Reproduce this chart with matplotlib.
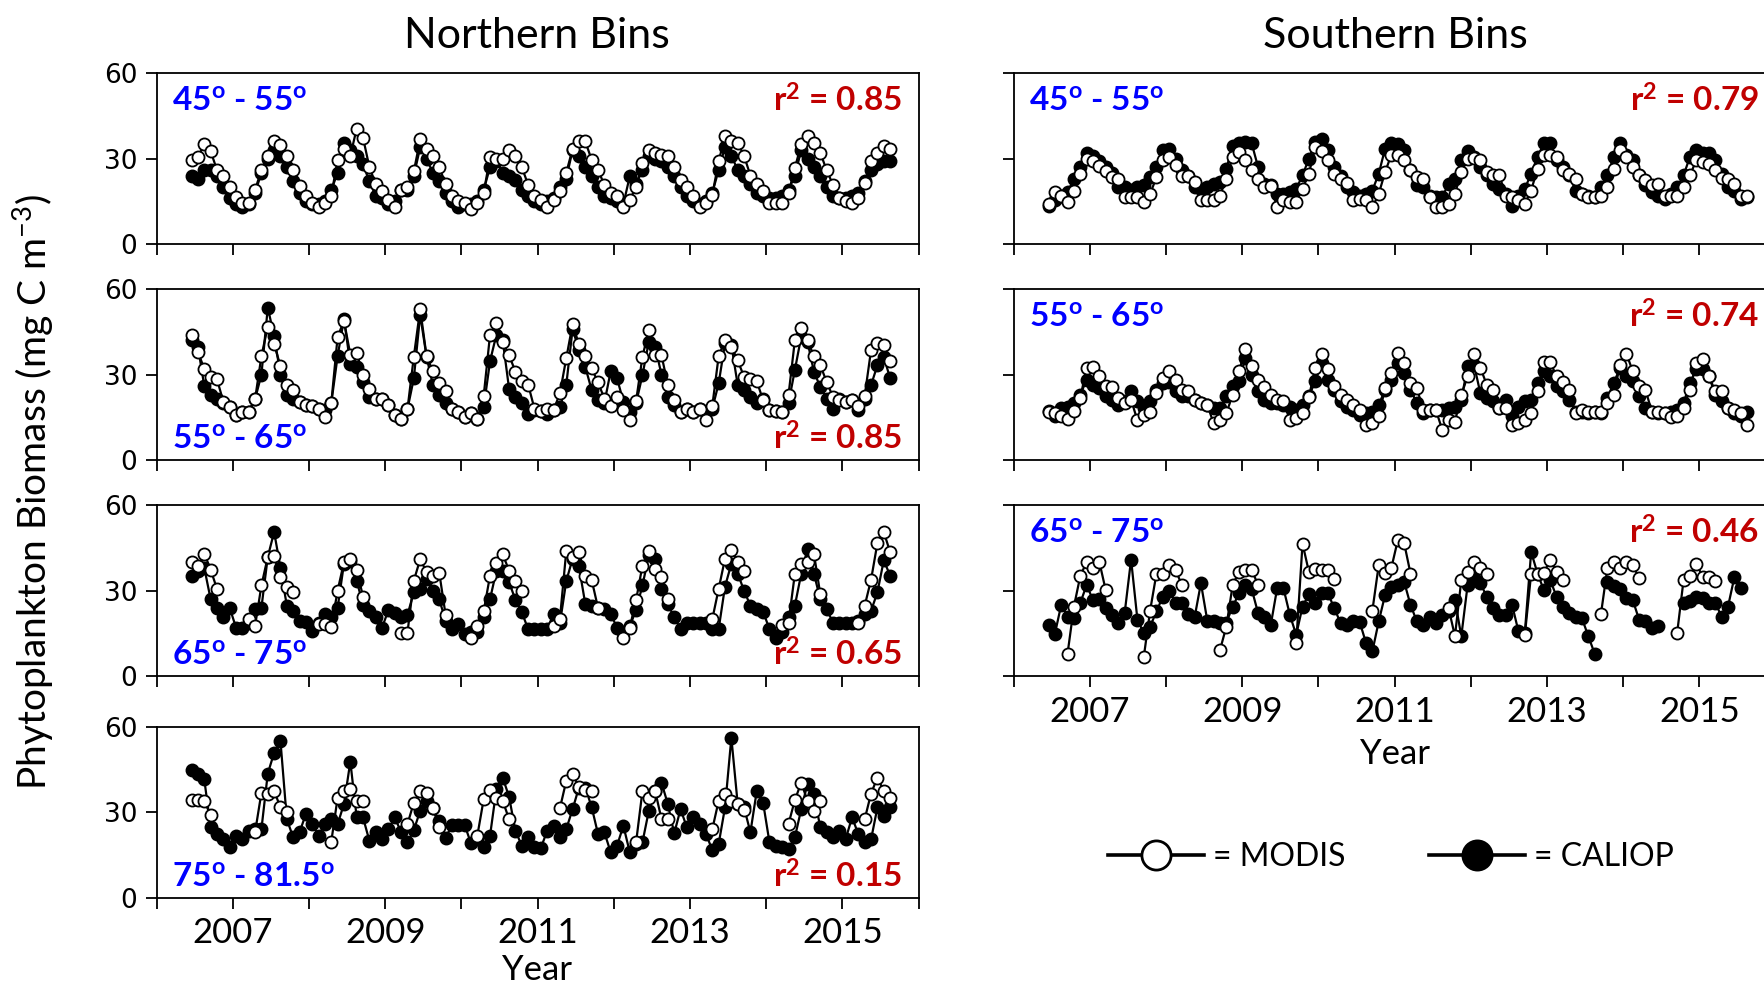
import numpy as np
import pandas as pd
import matplotlib
matplotlib.use('Agg')
import matplotlib.pyplot as plt
from matplotlib.lines import Line2D

plt.rcParams['font.family'] = ['Lato', 'DejaVu Sans']
plt.rcParams['mathtext.fontset'] = 'custom'
plt.rcParams['mathtext.rm'] = 'Lato'
plt.rcParams['mathtext.it'] = 'Lato:italic'
plt.rcParams['mathtext.bf'] = 'Lato:bold'

nan = np.nan

# monthly samples, Jun 2006 .. Aug 2015
months = pd.date_range('2006-06-01', '2015-08-01', freq='MS')
t = months.year + (months.month - 0.5) / 12

# ---------------- Northern bins ----------------
n45_modis = [
    29.6, 30.5, 35.0, 32.6, 26.0, 24.0, 20.0,
    16.4, 14.4, 14.4, 19.0, 26.0, 31.0, 36.0, 34.6, 31.0, 26.0, 20.5, 16.7,
    14.4, 13.0, 14.4, 17.0, 29.6, 33.4, 31.0, 40.5, 37.3, 27.0, 21.0, 18.5,
    15.5, 13.0, 19.0, 20.0, 25.5, 36.7, 33.4, 30.8, 27.0, 21.0, 16.7, 15.0,
    14.4, 12.4, 14.4, 18.0, 30.5, 30.0, 30.0, 33.0, 31.0, 27.0, 20.8, 16.7,
    15.5, 13.0, 15.5, 18.5, 25.0, 33.4, 36.0, 36.0, 29.6, 26.0, 20.8, 17.9,
    16.7, 13.0, 15.5, 20.0, 28.5, 33.0, 32.0, 31.4, 31.0, 27.0, 22.6, 20.0,
    16.7, 13.0, 14.4, 17.3, 29.0, 38.0, 36.0, 35.5, 31.0, 24.0, 21.0, 18.5,
    14.4, 14.4, 14.4, 17.9, 26.7, 35.0, 38.0, 35.5, 32.0, 26.0, 20.8, 16.0,
    15.0, 14.4, 16.0, 21.4, 29.0, 32.0, 34.4, 33.4,
]
n45_caliop = [
    24.0, 23.0, 26.0, 26.0, 24.0, 20.0, 16.0,
    14.0, 13.0, 14.0, 18.0, 25.0, 30.0, 33.0, 31.0, 27.0, 22.0, 18.0, 15.0,
    14.0, 14.0, 15.0, 19.0, 25.0, 35.5, 33.0, 31.0, 28.0, 22.0, 17.0, 16.0,
    14.0, 15.0, 19.0, 19.0, 24.0, 34.0, 30.0, 25.0, 22.0, 18.0, 15.0, 13.0,
    14.0, 14.0, 15.0, 19.0, 27.0, 29.0, 25.0, 24.0, 22.6, 19.0, 17.0, 15.0,
    14.0, 15.0, 16.0, 20.0, 23.0, 33.0, 31.0, 27.0, 24.0, 20.0, 17.0, 16.0,
    15.0, 14.0, 23.8, 21.0, 26.0, 31.0, 30.0, 29.0, 27.0, 24.0, 20.0, 17.0,
    15.0, 14.0, 15.0, 18.0, 26.0, 34.0, 31.0, 26.0, 24.0, 21.0, 18.0, 17.0,
    16.0, 16.0, 17.0, 19.0, 24.0, 33.0, 30.0, 27.0, 24.0, 20.0, 17.0, 16.0,
    16.0, 17.0, 18.0, 22.0, 26.0, 28.0, 29.0, 29.0,
]
n55_modis = [
    44.0, 38.0, 32.0, 29.2, 28.4, 20.5, 18.7,
    15.8, 17.0, 17.0, 21.4, 36.5, 46.8, 40.6, 33.0, 26.5, 24.5, 20.5, 19.3,
    19.0, 18.0, 15.2, 20.0, 43.3, 48.9, 37.0, 37.7, 29.8, 24.8, 21.4, 21.6,
    19.3, 15.8, 14.3, 17.9, 36.3, 53.0, 36.5, 31.2, 26.9, 24.3, 18.0, 17.0,
    15.2, 16.6, 14.4, 22.5, 44.0, 48.0, 41.5, 36.8, 31.0, 27.7, 26.5, 18.0,
    17.2, 18.0, 17.5, 23.4, 35.7, 47.7, 40.6, 36.6, 32.2, 27.3, 21.6, 19.0,
    22.0, 17.5, 14.0, 20.7, 36.3, 45.6, 37.0, 36.8, 26.3, 21.0, 17.0, 18.0,
    17.0, 18.0, 14.0, 19.0, 36.5, 42.0, 39.8, 35.0, 29.2, 28.3, 27.7, 21.0,
    17.5, 17.2, 17.0, 22.8, 42.0, 46.2, 42.0, 36.5, 33.3, 27.5, 22.2, 21.0,
    20.5, 21.0, 19.0, 22.6, 38.6, 41.0, 40.4, 34.7,
]
n55_caliop = [
    42.0, 39.8, 26.0, 23.0, 21.6, 20.0, 18.7,
    15.8, 17.0, 17.0, 21.4, 30.0, 53.5, 43.5, 30.0, 23.0, 21.6, 20.5, 19.3,
    19.0, 18.0, 17.5, 20.0, 36.5, 49.5, 33.6, 32.7, 27.5, 22.2, 21.4, 21.6,
    19.3, 15.8, 14.3, 17.9, 28.7, 51.0, 36.3, 26.3, 22.8, 19.9, 18.0, 17.0,
    15.2, 16.6, 14.4, 18.5, 34.7, 44.0, 42.0, 25.0, 22.2, 19.9, 16.0, 17.5,
    17.2, 16.0, 17.5, 18.5, 26.3, 46.0, 38.6, 32.7, 24.6, 21.0, 20.0, 31.2,
    28.7, 20.5, 17.0, 20.0, 29.8, 41.5, 39.8, 30.0, 22.2, 19.3, 17.0, 18.0,
    17.0, 18.0, 17.0, 18.0, 26.9, 41.0, 40.5, 26.3, 24.6, 22.2, 20.0, 21.6,
    17.5, 17.2, 17.0, 20.0, 31.6, 43.3, 41.5, 31.0, 25.7, 21.6, 18.0, 21.6,
    20.5, 21.0, 17.5, 21.6, 26.3, 33.3, 36.3, 28.7,
]
n65_modis = [
    40.0, 38.5, 43.0, 37.4, 30.6, nan, nan,
    nan, nan, 20.0, 17.6, 31.8, 41.8, 42.0, 34.7, 31.4, 29.4, nan, nan,
    nan, 18.2, 18.2, 17.3, 30.0, 40.0, 41.0, 37.3, 27.9, nan, nan, nan,
    nan, nan, 15.3, 15.3, 33.5, 41.0, 36.5, 35.0, 36.3, 21.5, nan, nan,
    nan, 13.5, 17.6, 22.7, 35.3, 39.6, 42.7, 37.0, 33.2, 29.8, nan, nan,
    nan, nan, 17.6, 20.0, 43.8, 41.8, 43.5, 35.3, 33.8, 24.0, nan, nan,
    nan, 13.5, 17.0, 26.7, 38.8, 44.0, 37.6, 34.7, 27.0, nan, nan, nan,
    nan, nan, nan, 20.0, 30.6, 41.2, 44.4, 40.0, 37.0, nan, nan, nan,
    nan, nan, 18.0, 18.8, 35.9, 39.4, 40.0, 43.0, 28.8, nan, nan, nan,
    nan, nan, 18.8, 24.7, 33.8, 46.7, 50.6, 43.5,
]
n65_caliop = [
    35.3, 37.0, 38.0, 27.0, 24.0, 20.6, 24.0,
    17.0, 17.0, 18.5, 23.5, 24.0, 41.8, 50.6, 38.0, 24.7, 23.0, 19.4, 19.0,
    16.0, 18.8, 21.8, 20.6, 24.0, 39.5, 40.5, 33.5, 25.0, 23.0, 20.8, 17.0,
    23.2, 22.0, 20.6, 21.5, 29.4, 30.6, 34.0, 30.0, 27.0, 19.4, 16.5, 18.2,
    14.7, 15.5, 15.5, 20.6, 27.0, 37.0, 37.0, 33.0, 26.7, 22.4, 16.5, 16.5,
    16.5, 16.5, 21.8, 18.5, 33.3, 41.2, 38.5, 25.3, 24.7, 24.0, 23.5, 21.8,
    17.0, 15.5, 17.5, 23.2, 31.8, 42.4, 41.0, 30.6, 25.3, 20.6, 16.5, 18.8,
    18.8, 18.8, 18.8, 16.5, 16.5, 31.4, 39.4, 36.0, 30.0, 24.7, 23.5, 22.6,
    16.5, 13.5, 15.5, 20.6, 24.7, 35.9, 44.7, 36.0, 27.0, 23.5, 18.8, 18.5,
    18.8, 18.8, 19.5, 21.8, 22.9, 29.4, 40.6, 35.3,
]
n75_modis = [
    34.3, 34.3, 33.8, 29.1, nan, nan, nan,
    nan, nan, nan, 23.0, 36.9, 36.6, 37.5, 31.7, 30.0, nan, nan, nan,
    nan, nan, nan, 19.7, 35.2, 37.5, 38.1, 33.8, 33.8, nan, nan, nan,
    nan, nan, nan, 25.9, 33.4, 37.5, 36.9, 31.4, 24.9, nan, nan, nan,
    nan, nan, 21.8, 34.6, 37.8, 35.2, 34.0, 27.6, nan, nan, nan, nan,
    nan, nan, nan, 31.4, 41.0, 43.4, 38.9, 37.8, 37.5, nan, nan, nan,
    nan, nan, nan, 19.5, 37.5, 35.0, 37.5, 27.6, 27.6, nan, nan, nan,
    nan, nan, nan, 24.1, 34.0, 36.6, 33.8, 32.9, 30.8, nan, nan, nan,
    nan, nan, nan, 25.9, 34.3, 40.4, 34.0, 30.5, 33.8, nan, nan, nan,
    nan, nan, nan, 27.6, 36.6, 42.2, 37.5, 35.0,
]
n75_caliop = [
    44.8, 43.4, 41.6, 24.7, 22.4, 20.6, 17.7,
    21.8, 20.6, 23.5, 24.1, 24.1, 43.6, 50.9, 55.0, 27.6, 21.2, 23.0, 29.4,
    25.9, 21.8, 25.9, 27.6, 25.9, 32.9, 47.8, 28.2, 28.2, 20.0, 23.0, 20.6,
    24.1, 28.2, 23.0, 19.5, 23.8, 30.5, 34.0, 31.4, 27.0, 20.9, 25.6, 25.6,
    25.6, 19.1, 20.5, 17.7, 21.8, 38.1, 42.2, 35.4, 23.5, 18.3, 21.2, 17.7,
    17.5, 23.5, 25.3, 21.2, 24.1, 31.1, 38.7, 38.7, 31.9, 22.4, 23.0, 16.0,
    18.3, 25.3, 16.0, 18.9, 19.5, 30.5, 37.5, 40.4, 32.9, 22.6, 31.1, 24.7,
    28.2, 25.9, 22.4, 16.8, 18.9, 31.7, 56.2, 32.9, 31.7, 23.0, 37.5, 33.4,
    19.5, 18.3, 17.7, 17.1, 21.2, 31.1, 40.1, 36.4, 24.7, 23.0, 21.2, 23.5,
    20.6, 28.2, 22.4, 19.5, 20.5, 31.7, 28.8, 31.7,
]

# ---------------- Southern bins ----------------
s45_modis = [
    13.9, 18.2, 16.7, 14.7, 18.6, 24.5, 29.9,
    29.0, 27.3, 25.5, 23.5, 23.0, 16.5, 16.5, 16.5, 14.7, 17.6, 23.5, 29.4,
    30.4, 27.6, 24.0, 23.8, 21.8, 15.3, 15.3, 15.3, 17.0, 23.0, 30.6, 32.4,
    29.4, 25.9, 23.0, 20.2, 20.5, 12.9, 15.3, 14.7, 14.7, 19.4, 24.7, 34.0,
    32.7, 29.4, 24.7, 23.0, 21.4, 15.3, 15.9, 15.3, 12.9, 17.6, 25.3, 31.4,
    31.4, 29.4, 25.9, 23.5, 23.0, 16.5, 12.9, 12.9, 13.9, 17.6, 25.3, 30.0,
    30.2, 29.4, 25.3, 24.1, 24.1, 17.0, 16.5, 15.3, 14.1, 18.8, 26.5, 31.2,
    31.2, 30.6, 25.9, 24.7, 23.0, 17.6, 16.5, 16.5, 17.0, 20.0, 26.5, 32.9,
    30.6, 27.0, 24.1, 22.4, 20.9, 21.0, 16.7, 16.7, 16.7, 20.0, 24.1, 29.4,
    28.8, 28.2, 25.9, 23.3, 23.0, 21.0, 17.0, 17.0,
]
s45_caliop = [
    13.5, 15.3, 17.0, 18.2, 22.9, 27.0, 31.8,
    31.0, 29.0, 27.0, 25.0, 20.0, 20.0, 19.0, 20.0, 20.6, 23.5, 27.0, 33.0,
    33.5, 30.0, 26.0, 24.0, 20.0, 19.4, 20.0, 21.2, 21.8, 26.5, 34.4, 35.5,
    35.9, 35.3, 27.0, 21.0, 20.6, 17.6, 17.6, 18.2, 19.4, 24.1, 30.0, 35.9,
    36.7, 33.0, 27.0, 24.0, 20.0, 18.2, 17.0, 17.6, 18.8, 24.7, 33.5, 35.3,
    35.0, 33.0, 25.9, 20.6, 20.0, 17.0, 16.5, 16.5, 21.2, 23.0, 29.4, 32.7,
    30.6, 27.0, 24.1, 21.2, 19.4, 17.6, 13.5, 17.0, 19.4, 24.7, 30.6, 35.3,
    35.3, 29.4, 27.0, 24.1, 18.8, 17.6, 17.0, 16.5, 20.0, 24.1, 30.6, 35.3,
    31.2, 29.4, 24.1, 20.6, 18.2, 16.7, 15.9, 17.6, 20.0, 24.1, 30.6, 32.9,
    31.8, 32.0, 29.4, 24.7, 20.0, 18.8, 15.9, 16.5,
]
s55_modis = [
    17.0, 16.5, 15.3, 14.4, 17.3, 21.8, 32.4,
    32.7, 29.4, 25.9, 25.6, 21.8, 20.0, 21.2, 13.9, 15.9, 17.0, 23.5, 28.8,
    31.4, 28.2, 24.7, 24.1, 21.2, 20.0, 19.4, 12.9, 14.1, 16.5, 22.9, 31.2,
    39.0, 32.9, 28.2, 25.5, 23.0, 21.2, 20.6, 14.1, 14.7, 16.5, 22.1, 32.4,
    37.3, 31.8, 25.9, 23.0, 21.2, 19.4, 17.6, 12.4, 12.9, 15.3, 25.3, 30.6,
    37.6, 33.9, 27.0, 25.3, 17.6, 17.6, 17.6, 10.6, 14.1, 13.5, 22.9, 29.4,
    37.3, 32.4, 26.5, 24.7, 18.2, 18.2, 12.4, 12.9, 14.1, 16.5, 24.1, 34.4,
    34.4, 29.4, 27.3, 24.5, 16.5, 17.6, 17.0, 17.0, 16.8, 20.2, 22.9, 33.5,
    37.3, 31.2, 25.9, 24.7, 17.0, 17.0, 16.5, 15.1, 15.3, 18.2, 24.7, 34.1,
    35.3, 29.4, 24.1, 24.1, 18.2, 17.6, 16.5, 12.4,
]
s55_caliop = [
    17.3, 15.3, 18.2, 18.8, 20.0, 22.9, 28.2,
    26.5, 25.3, 22.4, 21.2, 19.4, 20.6, 24.1, 20.6, 18.2, 20.6, 24.7, 27.0,
    27.3, 24.1, 22.4, 22.4, 21.2, 20.0, 19.4, 18.2, 18.2, 22.4, 25.9, 27.6,
    35.9, 30.0, 24.1, 21.2, 20.0, 20.0, 19.4, 18.8, 17.6, 19.4, 22.4, 27.6,
    34.1, 28.2, 24.7, 20.6, 18.8, 17.6, 15.9, 16.5, 17.0, 19.4, 24.7, 28.2,
    34.1, 30.6, 24.7, 20.0, 16.5, 17.6, 17.6, 17.6, 18.2, 18.8, 21.2, 32.9,
    33.5, 23.5, 21.8, 20.6, 18.2, 21.2, 15.3, 18.8, 20.6, 21.2, 27.0, 31.2,
    29.4, 25.9, 24.1, 21.2, 17.0, 17.0, 16.5, 17.0, 16.5, 21.8, 27.0, 32.4,
    29.4, 27.6, 22.4, 18.2, 17.0, 16.5, 16.5, 17.0, 17.6, 20.0, 27.0, 31.8,
    31.8, 29.4, 22.9, 20.6, 18.2, 16.5, 15.3, 16.7,
]
s65_modis = [
    nan, nan, nan, 7.9, 24.4, 35.1, 40.1,
    38.1, 40.1, 30.2, nan, nan, nan, nan, nan, 6.7, 23.0, 36.0, 36.0,
    39.0, 37.2, 32.0, nan, nan, nan, nan, nan, 9.1, 17.4, 32.0, 36.6,
    37.2, 37.2, 32.0, nan, nan, nan, nan, nan, 11.6, 46.5, 36.6, 37.6,
    37.2, 37.2, 34.0, nan, nan, nan, nan, nan, 23.0, 39.0, 36.3, 38.1,
    47.7, 46.7, 36.0, nan, nan, nan, nan, nan, 23.8, 14.0, 33.7, 36.6,
    40.1, 38.1, 36.0, nan, nan, nan, nan, nan, 14.3, 36.0, 36.0, 36.3,
    40.7, 36.6, 33.7, nan, nan, nan, nan, nan, 21.9, 37.8, 40.1, 38.1,
    40.1, 39.0, 34.3, nan, nan, nan, nan, nan, 15.3, 33.7, 35.1, 39.5,
    34.9, 34.7, 33.5, nan, nan, nan, nan, nan,
]
s65_caliop = [
    18.0, 14.8, 25.0, 20.9, 20.3, 25.6, 32.0,
    26.7, 27.0, 23.8, 21.5, 18.8, 22.3, 40.9, 19.8, 15.1, 17.4, 22.7, 27.9,
    29.9, 25.8, 25.6, 21.8, 20.6, 32.6, 19.5, 19.5, 18.8, 18.8, 24.4, 29.0,
    32.0, 30.5, 22.1, 20.9, 18.0, 30.8, 30.8, 21.5, 14.5, 24.4, 28.7, 25.6,
    29.1, 29.1, 23.8, 18.6, 18.0, 19.2, 19.0, 11.6, 8.7, 19.2, 28.5, 31.4,
    32.0, 33.1, 25.0, 19.2, 18.0, 20.9, 18.6, 21.5, 22.7, 26.7, 14.0, 32.0,
    34.3, 32.6, 27.9, 23.8, 21.5, 21.5, 25.0, 15.7, 15.1, 43.6, 36.0, 30.2,
    33.7, 27.9, 24.4, 22.1, 20.9, 20.3, 14.0, 7.9, nan, 33.1, 31.5, 30.5,
    27.3, 26.7, 19.8, 19.2, 16.9, 17.7, nan, nan, nan, 25.6, 26.2, 27.9,
    27.3, 25.6, 25.6, 20.9, 24.4, 34.7, 30.8, nan,
]

BLUE = '#0000FF'
RED = '#C00000'

fig = plt.figure(figsize=(17.64, 9.85), dpi=100)

W, H = 0.432, 0.1736
LEFT_X, RIGHT_X = 0.0888, 0.5746
ROWS = [0.7522, 0.5329, 0.3136, 0.0885]


def deg(a, b):
    return a + r'$^{\mathbf{o}}$ - ' + b + r'$^{\mathbf{o}}$'


def panel(x0, y0, modis, caliop, band, r2, label_top, bottom, left):
    ax = fig.add_axes([x0, y0, W, H])
    ax.plot(t, caliop, '-o', color='black', mfc='black', mec='black',
            ms=8.7, mew=1.3, lw=1.6, zorder=2)
    ax.plot(t, modis, '-o', color='black', mfc='white', mec='black',
            ms=8.7, mew=1.3, lw=1.6, zorder=3)
    ax.set_xlim(2006, 2016)
    ax.set_ylim(0, 60)
    years = list(range(2006, 2017))
    ax.set_xticks(years)
    if bottom:
        ax.set_xticklabels([str(y) if y % 2 == 1 else '' for y in years],
                           fontsize=25)
    else:
        ax.set_xticklabels([])
    ax.set_yticks([0, 30, 60])
    if left:
        ax.set_yticklabels(['0', '30', '60'], fontsize=19,
                           fontfamily='DejaVu Sans')
    else:
        ax.set_yticklabels([])
    ax.tick_params(direction='out', length=8, width=1.3, pad=6)
    for s in ax.spines.values():
        s.set_linewidth(1.3)
    ty = 0.84 if label_top else 0.125
    ax.text(0.02, ty, band, transform=ax.transAxes, color=BLUE,
            fontsize=24, fontweight='bold', ha='left', va='center')
    ax.text(0.978, ty, 'r$^{\\mathbf{2}}$ = ' + r2, transform=ax.transAxes,
            color=RED, fontsize=24, fontweight='bold', ha='right', va='center')
    return ax


panel(LEFT_X, ROWS[0], n45_modis, n45_caliop, deg('45', '55'), '0.85', True, False, True)
panel(LEFT_X, ROWS[1], n55_modis, n55_caliop, deg('55', '65'), '0.85', False, False, True)
panel(LEFT_X, ROWS[2], n65_modis, n65_caliop, deg('65', '75'), '0.65', False, False, True)
panel(LEFT_X, ROWS[3], n75_modis, n75_caliop, deg('75', '81.5'), '0.15', False, True, True)

panel(RIGHT_X, ROWS[0], s45_modis, s45_caliop, deg('45', '55'), '0.79', True, False, False)
panel(RIGHT_X, ROWS[1], s55_modis, s55_caliop, deg('55', '65'), '0.74', True, False, False)
panel(RIGHT_X, ROWS[2], s65_modis, s65_caliop, deg('65', '75'), '0.46', True, True, False)

fig.text(0.3044, 0.9635, 'Northern Bins', ha='center', va='center', fontsize=31)
fig.text(0.791, 0.9635, 'Southern Bins', ha='center', va='center', fontsize=31)
fig.text(0.3044, 0.005, 'Year', ha='center', va='baseline', fontsize=25)
fig.text(0.791, 0.235, 'Year', ha='center', va='center', fontsize=25)
fig.text(0.019, 0.5005, 'Phytoplankton Biomass (mg C m$^{-3}$)', rotation=90,
         ha='center', va='center', fontsize=28)

handles = [
    Line2D([], [], color='black', lw=2.6, marker='o', ms=21, mfc='white',
           mec='black', mew=2),
    Line2D([], [], color='black', lw=2.6, marker='o', ms=21, mfc='black',
           mec='black', mew=2),
]
fig.legend(handles, ['= MODIS', '= CALIOP'], loc='center left',
           bbox_to_anchor=(0.628, 0.13), ncol=2, frameon=False, numpoints=1,
           handlelength=3.0, handletextpad=0.3, columnspacing=2.6,
           borderpad=0, borderaxespad=0, fontsize=23)

fig.savefig('out.png', dpi=100)
